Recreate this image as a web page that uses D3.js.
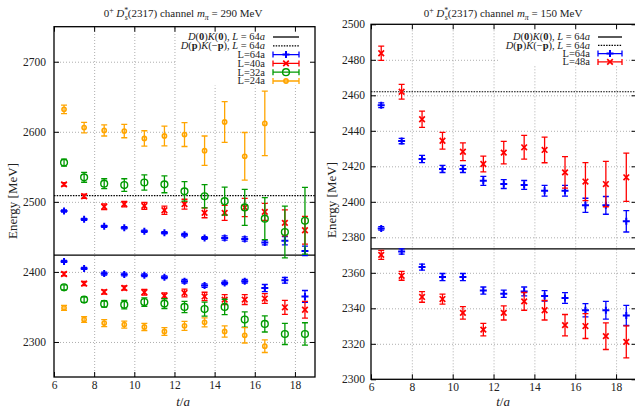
<!DOCTYPE html>
<html><head><meta charset="utf-8">
<script src="https://cdn.jsdelivr.net/npm/d3@7"></script>
<style>
body{margin:0;background:#fff}
text{font-family:"Liberation Serif","Times New Roman","DejaVu Serif",serif;fill:#222}
</style>
</head><body>
<svg id="c" width="635" height="411" xmlns="http://www.w3.org/2000/svg" font-family="Liberation Serif, DejaVu Serif, serif"></svg>
<script>
// ---------- data ----------
const tVals = [6.5,7.5,8.5,9.5,10.5,11.5,12.5,13.5,14.5,15.5,16.5,17.5,18.5];
const xTickVals = [6,8,10,12,14,16,18];
const leftYTicks = [2300,2400,2500,2600,2700];
const rightYTicks = [2300,2320,2340,2360,2380,2400,2420,2440,2460,2480,2500];

// left panel, m_pi = 290 MeV
const l64Hi    = [2487,2475,2465,2463,2458,2456,2453,2448.5,2448.5,2447,2442,2444.5,2430];
const l64HiErr = [1.5,1.5,1.5,1.5,1.5,1.5,2,2,3,3,3.5,6,6.7];
const l64Lo    = [2415,2405,2397.6,2396.2,2395.2,2392.4,2386.7,2380.5,2384.3,2386.7,2377,2388,2365];
const l64LoErr = [1.5,1.5,2,2,2,2,2.5,2.5,2.5,2.5,5,4,8.5];
const l40Hi    = [2525,2508,2493,2496.7,2494.3,2488,2496.7,2484.3,2484.3,2492,2485.7,2470,2459.5];
const l40HiErr = [2.5,3,4,4,5,6,7,7,10.7,13,12,18.6,19.8];
const l40Lo    = [2397,2383.3,2371.4,2377,2371,2366,2370,2365,2360.5,2360.5,2362,2349.5,2346];
const l40LoErr = [2.5,3,3,3,4,4,5.5,6,7,7,7,10,12];
const l32Hi    = [2556,2535,2526,2524,2527.6,2525,2515,2508,2501,2492,2476,2457,2473];
const l32HiErr = [5,7,7,9,11,12,14,16.7,20,25.7,30,37,47.6];
const l32Lo    = [2378,2360.5,2354.3,2353.3,2357,2354.8,2350,2347,2350,2332,2325.7,2311.4,2311.4];
const l32LoErr = [3.5,4,4.5,6,6,7,8,10,11,11,11.5,15,16];
const l24Hi    = [2632,2606,2602,2601,2590.5,2594,2596,2573,2614,2565,2612];
const l24HiErr = [6,7.5,8,9.5,11,14,17,21,29,34,46];
const l24Lo    = [2348.6,2332,2327,2324.8,2321.4,2315,2323,2328,2315,2309.5,2294];
const l24LoErr = [3.5,4,5,5,5,5.5,6.5,6.5,8,11,9];
const leftThrSolid = 2424;
const leftThrDotted = 2509;

// right panel, m_pi = 150 MeV
const r64Hi    = [2454.4,2434.2,2424.1,2418.5,2418.5,2411.8,2410,2409.5,2406.2,2406.2,2398,2398,2389];
const r64HiErr = [1.3,1.5,2,2,2,2.5,2.5,2.5,3,3,4,5,6];
const r64Lo    = [2385,2372,2363.2,2357.6,2357.6,2350,2348.2,2349.5,2347,2345.8,2338.9,2338.9,2336];
const r64LoErr = [1,1.5,1.7,2,2,2,2,2.5,3,3,3.7,5,5.7];
const r48Hi    = [2483.7,2462,2446.5,2434.4,2428.2,2421.3,2427.7,2430.7,2429.2,2416.6,2411.4,2410,2413.8];
const r48HiErr = [4,4.2,4.6,4.7,5,4.4,6.3,6.7,7.2,8.9,10.7,12.8,13.6];
const r48Lo    = [2370.1,2358.3,2346.4,2345.2,2337.4,2328,2337.4,2343.9,2338.9,2330.5,2330,2324.3,2321.1];
const r48LoErr = [2.5,2.5,3,2.8,3.5,3.5,4,5,5.5,6,7,7.5,9];
const rightThrSolid = 2373.5;
const rightThrDotted = 2462;

// ---------- drawing ----------
const svg = d3.select('#c');
const COL = {blue:'#0000ff', red:'#ff0000', green:'#009a00', orange:'#ffa500'};

function marker(g, type, cx, cy, color) {
  if (type === 'plus') {
    g.append('path').attr('d',`M${cx-3.5},${cy}H${cx+3.5}M${cx},${cy-3.5}V${cy+3.5}`)
      .attr('stroke',color).attr('stroke-width',2).attr('fill','none');
  } else if (type === 'cross') {
    g.append('path').attr('d',`M${cx-2.8},${cy-2.8}L${cx+2.8},${cy+2.8}M${cx-2.8},${cy+2.8}L${cx+2.8},${cy-2.8}`)
      .attr('stroke',color).attr('stroke-width',1.7).attr('fill','none');
  } else if (type === 'circle') {
    g.append('circle').attr('cx',cx).attr('cy',cy).attr('r',3.4)
      .attr('stroke',color).attr('stroke-width',1.4).attr('fill','none');
  } else if (type === 'dot') {
    g.append('circle').attr('cx',cx).attr('cy',cy).attr('r',2.1)
      .attr('stroke',color).attr('stroke-width',1.6).attr('fill','none');
  }
}

function richText(sel, x, y, parts, size, anchor) {
  const t = sel.append('text').attr('x',x).attr('y',y).attr('font-size',size)
    .attr('text-anchor',anchor || 'middle');
  let off = 0;
  parts.forEach(p => {
    const s = t.append('tspan').text(p.t);
    let target = 0, fs = size;
    if (p.sup) { target = -size*0.38; fs = size*0.72; }
    if (p.sub) { target = size*0.25; fs = size*0.72; }
    s.attr('dy', target - off); off = target;
    if (fs !== size) s.attr('font-size', fs);
    if (p.i) s.attr('font-style','italic');
    if (p.b) s.attr('font-weight','bold');
    if (p.dx) s.attr('dx', p.dx);
  });
  return t;
}

function panel(p) {
  const x = d3.scaleLinear().domain([6,19]).range([p.left,p.right]);
  const y = d3.scaleLinear().domain(p.yDomain).range([p.bottom,p.top]);
  const W = p.right - p.left, H = p.bottom - p.top;
  const g = svg.append('g');
  const clipId = 'clip' + p.id;
  svg.append('clipPath').attr('id',clipId).append('rect')
    .attr('x',p.left).attr('y',p.top).attr('width',W).attr('height',H);

  // grid
  const gx = g.append('g').attr('transform',`translate(0,${p.bottom})`)
    .call(d3.axisBottom(x).tickValues(xTickVals.filter(v=>v>6)).tickSize(-H).tickFormat(''));
  const gy = g.append('g').attr('transform',`translate(${p.left},0)`)
    .call(d3.axisLeft(y).tickValues(p.yTicks.filter(v=>v>p.yDomain[0] && v<p.yDomain[1])).tickSize(-W).tickFormat(''));
  [gx,gy].forEach(a => {
    a.select('.domain').remove();
    a.selectAll('line').attr('stroke','#9a9a9a').attr('stroke-width',0.8).attr('stroke-dasharray','1,2');
  });

  // thresholds
  const thr = g.append('g').attr('clip-path',`url(#${clipId})`);
  thr.append('line').attr('x1',p.left).attr('x2',p.right)
    .attr('y1',y(p.thrSolid)).attr('y2',y(p.thrSolid))
    .attr('stroke','#000').attr('stroke-width',1.3);
  thr.append('line').attr('x1',p.left).attr('x2',p.right)
    .attr('y1',y(p.thrDotted)).attr('y2',y(p.thrDotted))
    .attr('stroke','#000').attr('stroke-width',1.2).attr('stroke-dasharray','1.5,1.2');

  // data
  const dg = g.append('g').attr('clip-path',`url(#${clipId})`);
  p.series.forEach(s => {
    s.sets.forEach(([vals, errs]) => {
      vals.forEach((v,i) => {
        const cx = x(tVals[i]), e = errs[i];
        const y1 = y(v-e), y2 = y(v+e);
        dg.append('path')
          .attr('d',`M${cx},${y1}V${y2}M${cx-3},${y1}H${cx+3}M${cx-3},${y2}H${cx+3}`)
          .attr('stroke',s.color).attr('stroke-width',1.3).attr('fill','none');
        marker(dg, s.marker, cx, y(v), s.color);
      });
    });
  });

  // legend (opaque box)
  const L = p.legend;
  g.append('rect').attr('x',L.box[0]).attr('y',L.box[1]).attr('width',L.box[2]).attr('height',L.box[3]).attr('fill','#fff');
  const lg = g.append('g');
  L.rows.forEach((r,i) => {
    const yy = L.y0 + i*L.dy;
    richText(lg, L.textX, yy + 3.4, r.parts, 10.5, 'end');
    if (r.kind === 'solid') {
      lg.append('line').attr('x1',L.s1).attr('x2',L.s2).attr('y1',yy).attr('y2',yy)
        .attr('stroke','#000').attr('stroke-width',1.3);
    } else if (r.kind === 'dotted') {
      lg.append('line').attr('x1',L.s1).attr('x2',L.s2).attr('y1',yy).attr('y2',yy)
        .attr('stroke','#000').attr('stroke-width',1.2).attr('stroke-dasharray','1.5,1.2');
    } else {
      lg.append('path').attr('d',`M${L.s1},${yy}H${L.s2}M${L.s1},${yy-3}V${yy+3}M${L.s2},${yy-3}V${yy+3}`)
        .attr('stroke',r.color).attr('stroke-width',1.3).attr('fill','none');
      marker(lg, r.marker, (L.s1+L.s2)/2, yy, r.color);
    }
  });

  // axes with inward ticks on all sides
  const ax = [
    g.append('g').attr('transform',`translate(0,${p.bottom})`)
      .call(d3.axisBottom(x).tickValues(xTickVals).tickSize(-5).tickSizeOuter(0).tickPadding(3.5)),
    g.append('g').attr('transform',`translate(0,${p.top})`)
      .call(d3.axisTop(x).tickValues(xTickVals).tickSize(-5).tickSizeOuter(0).tickFormat('')),
    g.append('g').attr('transform',`translate(${p.left},0)`)
      .call(d3.axisLeft(y).tickValues(p.yTicks).tickSize(-5).tickSizeOuter(0).tickPadding(p.yPad).tickFormat(d3.format('d'))),
    g.append('g').attr('transform',`translate(${p.right},0)`)
      .call(d3.axisRight(y).tickValues(p.yTicks).tickSize(-5).tickSizeOuter(0).tickFormat(''))
  ];
  ax.forEach(a => {
    a.attr('font-family','Liberation Serif, DejaVu Serif, serif').attr('font-size',11.5);
    a.select('.domain').remove();
    a.selectAll('line').attr('stroke','#000').attr('stroke-width',1);
    a.selectAll('text').attr('fill','#222');
  });
  g.append('rect').attr('x',p.left).attr('y',p.top).attr('width',W).attr('height',H)
    .attr('fill','none').attr('stroke','#000').attr('stroke-width',1.3);

  // titles & labels
  richText(g, p.titleX, 17, p.title, 11, 'middle');
  g.append('text').attr('transform',`translate(${p.ylabX},${p.ylabY}) rotate(-90)`)
    .attr('text-anchor','middle').attr('font-size',13).text('Energy [MeV]');
  richText(g, p.xlabX, 406,
    [{t:'t',i:true},{t:'/'},{t:'a',i:true}], 13, 'middle');
}

const titleParts = mpi => [
  {t:'0'},{t:'+',sup:true},{t:' '},{t:'D',i:true},{t:'*',sup:true},{t:'s',sub:true,i:true,dx:-3.5},
  {t:'(2317) channel '},{t:'m',i:true},{t:'π',sub:true,i:true},{t:' = '+mpi+' MeV'}
];
const legTop = [
  {kind:'solid', parts:[{t:'D',i:true},{t:'('},{t:'0',b:true},{t:')'},{t:'K',i:true},{t:'('},{t:'0',b:true},{t:'), '},{t:'L',i:true},{t:' = 64'},{t:'a',i:true}]},
  {kind:'dotted', parts:[{t:'D',i:true},{t:'('},{t:'p',b:true},{t:')'},{t:'K',i:true},{t:'(−'},{t:'p',b:true},{t:'), '},{t:'L',i:true},{t:' = 64'},{t:'a',i:true}]}
];

panel({
  id:'L', left:54, right:315, top:26.7, bottom:377, yDomain:[2250,2750], yTicks:leftYTicks, yPad:8,
  thrSolid:leftThrSolid, thrDotted:leftThrDotted,
  series:[
    {color:COL.blue, marker:'plus', sets:[[l64Hi,l64HiErr],[l64Lo,l64LoErr]]},
    {color:COL.red, marker:'cross', sets:[[l40Hi,l40HiErr],[l40Lo,l40LoErr]]},
    {color:COL.green, marker:'circle', sets:[[l32Hi,l32HiErr],[l32Lo,l32LoErr]]},
    {color:COL.orange, marker:'dot', sets:[[l24Hi,l24HiErr],[l24Lo,l24LoErr]]}
  ],
  legend:{box:[176,27.5,138,58], textX:265, s1:273, s2:299, y0:37, dy:8.8,
    rows: legTop.concat([
      {color:COL.blue, marker:'plus', parts:[{t:'L=64a'}]},
      {color:COL.red, marker:'cross', parts:[{t:'L=40a'}]},
      {color:COL.green, marker:'circle', parts:[{t:'L=32a'}]},
      {color:COL.orange, marker:'dot', parts:[{t:'L=24a'}]}
    ])},
  title:titleParts(290), titleX:183, ylabX:17, ylabY:201, xlabX:183
});

panel({
  id:'R', left:371, right:636.5, top:24.3, bottom:379.3, yDomain:[2300,2500], yTicks:rightYTicks, yPad:6,
  thrSolid:rightThrSolid, thrDotted:rightThrDotted,
  series:[
    {color:COL.blue, marker:'plus', sets:[[r64Hi,r64HiErr],[r64Lo,r64LoErr]]},
    {color:COL.red, marker:'cross', sets:[[r48Hi,r48HiErr],[r48Lo,r48LoErr]]}
  ],
  legend:{box:[500,25,126,41], textX:590, s1:598, s2:622, y0:37, dy:8.3,
    rows: legTop.concat([
      {color:COL.blue, marker:'plus', parts:[{t:'L=64a'}]},
      {color:COL.red, marker:'cross', parts:[{t:'L=48a'}]}
    ])},
  title:titleParts(150), titleX:503, ylabX:336, ylabY:200, xlabX:503
});
</script>
</body></html>
